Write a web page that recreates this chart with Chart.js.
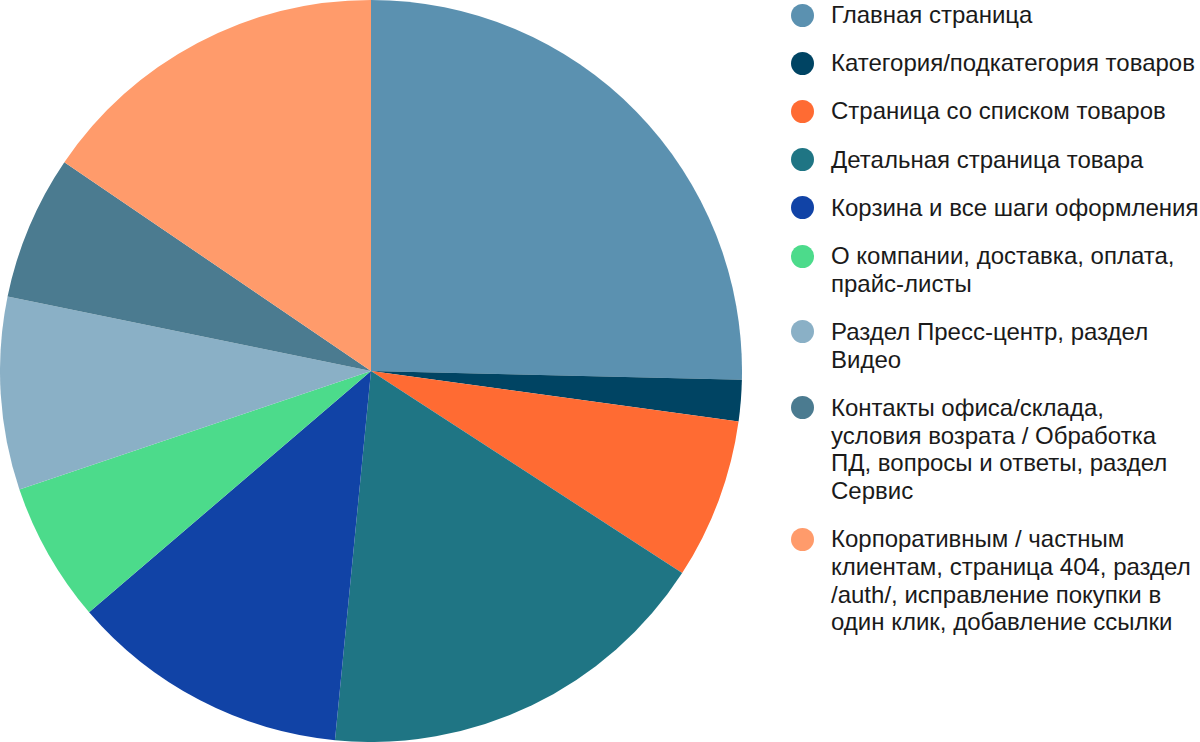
<!DOCTYPE html>
<html>
<head>
<meta charset="utf-8">
<script src="https://cdn.jsdelivr.net/npm/chart.js@4"></script>
<style>
    html, body { margin: 0; padding: 0; background: #fff; }
    #wrap { position: relative; width: 1200px; height: 742px; overflow: hidden; }
    #box { position: absolute; left: 0; top: 0; width: 742px; height: 742px; }
    #legenda { position: absolute; left: 791px; top: 1px; margin: 0; padding: 0; list-style: none;
        font-family: "Liberation Sans", Arial, sans-serif; font-size: 24px; line-height: 27.7px; color: #1a1a1a; }
    #legenda li { position: relative; padding-left: 40px; margin-bottom: 20.5px; white-space: nowrap; }
    #legenda .punto { position: absolute; left: 0; top: 2.5px; width: 23px; height: 23px; border-radius: 50%; }
</style>
</head>
<body>
<div id="wrap">
    <div id="box"><canvas id="grafico" width="742" height="742"></canvas></div>
    <ul id="legenda"></ul>
</div>
<script>
const etiquetas = [
    ["Главная страница"],
    ["Категория/подкатегория товаров"],
    ["Страница со списком товаров"],
    ["Детальная страница товара"],
    ["Корзина и все шаги оформления"],
    ["О компании, доставка, оплата,", "прайс-листы"],
    ["Раздел Пресс-центр, раздел", "Видео"],
    ["Контакты офиса/склада,", "условия возрата / Обработка", "ПД, вопросы и ответы, раздел", "Сервис"],
    ["Корпоративным / частным", "клиентам, страница 404, раздел", "/auth/, исправление покупки в", "один клик, добавление ссылки"]
];
const valores = [25.4, 1.8, 7.0, 17.4, 12.2, 6.1, 8.4, 6.3, 15.5];
const colores = ["#5b91b0", "#004463", "#ff6b33", "#1f7584", "#1143a6", "#4cdb8b", "#8ab0c6", "#4b7b90", "#ff9b6b"];

function renderizarGrafico() {
    const ctx = document.getElementById("grafico").getContext("2d");
    new Chart(ctx, {
        type: 'pie',
        data: {
            labels: etiquetas,
            datasets: [{
                data: valores,
                backgroundColor: colores,
                borderWidth: 0
            }]
        },
        options: {
            responsive: false,
            animation: false,
            layout: { padding: 0 },
            plugins: {
                legend: { display: false },
                tooltip: { enabled: false }
            }
        }
    });
}

function renderizarLeyenda() {
    const ul = document.getElementById("legenda");
    etiquetas.forEach((lineas, i) => {
        const li = document.createElement("li");
        const punto = document.createElement("span");
        punto.className = "punto";
        punto.style.background = colores[i];
        li.appendChild(punto);
        lineas.forEach((t, j) => {
            if (j > 0) li.appendChild(document.createElement("br"));
            li.appendChild(document.createTextNode(t));
        });
        ul.appendChild(li);
    });
}

renderizarGrafico();
renderizarLeyenda();
</script>
</body>
</html>
